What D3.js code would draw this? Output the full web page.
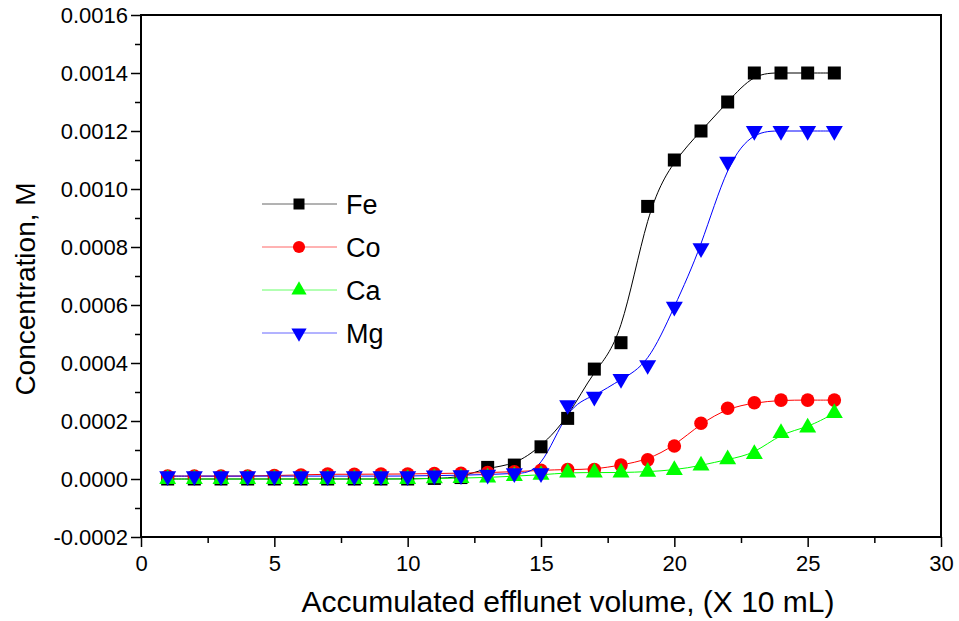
<!DOCTYPE html>
<html>
<head>
<meta charset="utf-8">
<script src="https://cdn.jsdelivr.net/npm/d3@7"></script>
<style>
  html, body { margin: 0; padding: 0; background: #fff; }
  svg { display: block; font-family: "Liberation Sans", Arial, sans-serif; }
</style>
</head>
<body>
<svg id="chart" width="959" height="621"></svg>
<script>
// ---- data ----
const volumes = [1,2,3,4,5,6,7,8,9,10,11,12,13,14,15,16,17,18,19,20,21,22,23,24,25,26];
const fe = [0,0,0,0,0,0,0,0,0,0,0.000002,0.000005,0.00004,0.000048,0.000111,0.000209,0.000379,0.00047,0.00094,0.0011,0.0012,0.0013,0.0014,0.0014,0.0014,0.0014];
const co = [0.00001,0.00001,0.00001,0.00001,0.000012,0.000014,0.000017,0.000016,0.000017,0.000017,0.000019,0.00002,0.000022,0.000025,0.00003,0.000033,0.000033,0.000048,0.000066,0.000114,0.000192,0.000244,0.000263,0.000272,0.000272,0.000272];
const ca = [0,0,0,0,0,0,0,0,0,0,0.000002,0.000003,0.000005,0.00001,0.000014,0.000022,0.000022,0.000022,0.000025,0.000031,0.000046,0.000068,0.000086,0.000158,0.000177,0.000227];
const mg = [0.00001,0.00001,0.00001,0.00001,0.00001,0.00001,0.00001,0.00001,0.00001,0.00001,0.000012,0.000013,0.000015,0.00002,0.00002,0.000255,0.000284,0.000345,0.000393,0.000594,0.000796,0.001094,0.0012,0.0012,0.0012,0.0012];
const seriesNames = ["Fe","Co","Ca","Mg"];
const seriesValues = [fe, co, ca, mg];
const seriesColors = ["#000000","#ff0000","#00ff00","#0000ff"];
const xTicks = [0,5,10,15,20,25,30];
const yTicks = [-0.0002,0,0.0002,0.0004,0.0006,0.0008,0.0010,0.0012,0.0014,0.0016];
const xTitle = "Accumulated efflunet volume, (X 10 mL)";
const yTitle = "Concentration, M";

// ---- layout ----
const L = 141, R = 941, T = 15, B = 537;
const svg = d3.select("#chart");
const x = d3.scaleLinear().domain([0, 30]).range([L, R]);
const y = d3.scaleLinear().domain([-0.0002, 0.0016]).range([B, T]);

// minor ticks
const xMinor = d3.range(2.5, 30, 5);
const yMinor = d3.range(-0.0001, 0.0016, 0.0002);

svg.append("g").attr("transform", `translate(0,${B})`)
  .call(d3.axisBottom(x).tickValues(xMinor).tickSize(6).tickFormat(""))
  .call(g => g.select(".domain").remove())
  .call(g => g.selectAll("line").attr("stroke-width", 1.5));
svg.append("g").attr("transform", `translate(${L},0)`)
  .call(d3.axisLeft(y).tickValues(yMinor).tickSize(6).tickFormat(""))
  .call(g => g.select(".domain").remove())
  .call(g => g.selectAll("line").attr("stroke-width", 1.5));

const gx = svg.append("g").attr("transform", `translate(0,${B})`)
  .call(d3.axisBottom(x).tickValues(xTicks).tickSize(10).tickPadding(8).tickFormat(d3.format("d")));
gx.select(".domain").remove();
gx.selectAll("line").attr("stroke-width", 1.5);
gx.selectAll("text").attr("font-size", 22).attr("fill", "#000")
  .attr("font-family", "Liberation Sans, Arial, sans-serif");

const gy = svg.append("g").attr("transform", `translate(${L},0)`)
  .call(d3.axisLeft(y).tickValues(yTicks).tickSize(10).tickPadding(3)
    .tickFormat(d => (Math.abs(d) < 1e-12 ? 0 : d).toFixed(4)));
gy.select(".domain").remove();
gy.selectAll("line").attr("stroke-width", 1.5);
gy.selectAll("text").attr("font-size", 22).attr("fill", "#000")
  .attr("font-family", "Liberation Sans, Arial, sans-serif");

// frame
svg.append("rect").attr("x", L).attr("y", T).attr("width", R - L).attr("height", B - T)
  .attr("fill", "none").attr("stroke", "#000").attr("stroke-width", 2);

// titles
svg.append("text").attr("x", 568).attr("y", 612)
  .attr("text-anchor", "middle").attr("font-size", 30).text(xTitle);
svg.append("text").attr("transform", `translate(35,289) rotate(-90)`)
  .attr("text-anchor", "middle").attr("font-size", 28).text(yTitle);

// series
const line = d3.line().curve(d3.curveBasis).x(d => x(d.v)).y(d => y(d.c));
const shapes = [
  d3.symbol().type(d3.symbolSquare).size(169),
  d3.symbol().type(d3.symbolCircle).size(145),
  d3.symbol().type(d3.symbolTriangle).size(125),
  d3.symbol().type(d3.symbolTriangle).size(125)
];
const legendShapes = [
  d3.symbol().type(d3.symbolSquare).size(121),
  d3.symbol().type(d3.symbolCircle).size(115),
  d3.symbol().type(d3.symbolTriangle).size(100),
  d3.symbol().type(d3.symbolTriangle).size(100)
];

seriesValues.forEach((vals, i) => {
  const pts = volumes.map((v, j) => ({ v, c: vals[j] }));
  svg.append("path").datum(pts).attr("d", line)
    .attr("fill", "none").attr("stroke", seriesColors[i]).attr("stroke-width", 1);
});
seriesValues.forEach((vals, i) => {
  const pts = volumes.map((v, j) => ({ v, c: vals[j] }));
  svg.append("g").selectAll("path").data(pts).join("path")
    .attr("d", shapes[i])
    .attr("transform", d => `translate(${x(d.v)},${y(d.c)})` + (i === 3 ? " rotate(180)" : ""))
    .attr("fill", seriesColors[i]);
});

// legend
const legY = [204, 247, 290, 333];
seriesNames.forEach((name, i) => {
  const g = svg.append("g");
  g.append("line").attr("x1", 262).attr("x2", 337).attr("y1", legY[i]).attr("y2", legY[i])
    .attr("stroke", seriesColors[i]).attr("stroke-width", 1).attr("stroke-opacity", 0.6);
  g.append("path").attr("d", legendShapes[i])
    .attr("transform", `translate(299,${legY[i]})` + (i === 3 ? " rotate(180)" : ""))
    .attr("fill", seriesColors[i]);
  g.append("text").attr("x", 346).attr("y", legY[i] + 10).attr("font-size", 27).text(name);
});
</script>
</body>
</html>
